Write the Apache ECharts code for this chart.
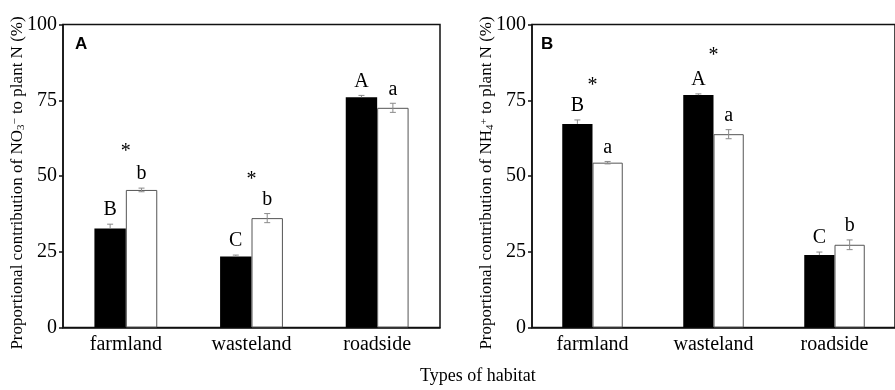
<!DOCTYPE html>
<html><head><meta charset="utf-8">
<script src="https://cdn.jsdelivr.net/npm/echarts@6/dist/echarts.min.js"></script>
<style>html,body{margin:0;padding:0;background:#fff}#c{width:895px;height:390px}</style>
</head><body><div id="c"></div>
<script>
const categories = ['farmland', 'wasteland', 'roadside'];
const yTicks = [0, 25, 50, 75, 100];
// Panel A: NO3- contribution
const nitrateBlack = [32.7, 23.4, 76.0];
const nitrateBlackErr = [1.4, 0.5, 0.6];
const nitrateWhite = [45.4, 36.1, 72.5];
const nitrateWhiteErr = [0.6, 1.5, 1.5];
const nitrateBlackLetters = ['B', 'C', 'A'];
const nitrateWhiteLetters = ['b', 'b', 'a'];
const nitrateStars = [59.2, 50.0, null];
// Panel B: NH4+ contribution
const ammoniumBlack = [67.2, 76.7, 23.9];
const ammoniumBlackErr = [1.3, 0.4, 1.0];
const ammoniumWhite = [54.4, 63.8, 27.3];
const ammoniumWhiteErr = [0.4, 1.5, 1.6];
const ammoniumBlackLetters = ['B', 'A', 'C'];
const ammoniumWhiteLetters = ['a', 'a', 'b'];
const ammoniumStars = [81.0, 91.0, null];

const SERIF = '"Liberation Serif", "Times New Roman", serif';
const chart = echarts.init(document.getElementById('c'), null, {renderer: 'canvas'});

function errSeries(gi, vals, errs, letters, side, fullBar) {
  return {
    type: 'custom', xAxisIndex: gi, yAxisIndex: gi, z: 5,
    data: vals.map((v, i) => [i, v, errs[i], letters[i]]),
    renderItem: function (params, api) {
      const i = api.value(0), v = api.value(1), e = api.value(2);
      const c = api.coord([i, v]);
      const bw = api.size([1, 0])[0] * 0.25;
      const x = c[0] + side * bw / 2;
      const yTop = api.coord([i, v + e])[1];
      const yBot = fullBar ? api.coord([i, v - e])[1] : c[1];
      const cw = 3;
      const st = {stroke: '#8a8a8a', lineWidth: 1};
      const ch = [
        {type: 'line', shape: {x1: x, y1: yTop, x2: x, y2: yBot}, style: st},
        {type: 'line', shape: {x1: x - cw, y1: yTop, x2: x + cw, y2: yTop}, style: st},
        {type: 'text', x: x, y: yTop - 4, style: {text: letters[i], font: '20px ' + SERIF, fill: '#000', align: 'center', verticalAlign: 'bottom'}}
      ];
      if (fullBar) ch.push({type: 'line', shape: {x1: x - cw, y1: yBot, x2: x + cw, y2: yBot}, style: st});
      return {type: 'group', children: ch};
    }
  };
}
function starSeries(gi, stars) {
  return {
    type: 'custom', xAxisIndex: gi, yAxisIndex: gi, z: 5,
    data: stars.map((s, i) => [i, s === null ? '-' : s]),
    renderItem: function (params, api) {
      const v = api.value(1);
      if (isNaN(v)) return null;
      const c = api.coord([api.value(0), v]);
      return {type: 'text', x: c[0], y: c[1] + 4, style: {text: '*', font: '20px ' + SERIF, fill: '#000', align: 'center', verticalAlign: 'middle'}};
    }
  };
}
function barPair(gi, black, white) {
  return [
    {type: 'bar', xAxisIndex: gi, yAxisIndex: gi, data: black, barGap: '0%', barCategoryGap: '50%',
     itemStyle: {color: '#000', borderColor: '#000', borderWidth: 0}},
    {type: 'bar', xAxisIndex: gi, yAxisIndex: gi, data: white, barGap: '0%', barCategoryGap: '50%',
     itemStyle: {color: '#fff', borderColor: '#555', borderWidth: 1}}
  ];
}
function yAx(gi) {
  return {
    type: 'value', gridIndex: gi, min: 0, max: 100, interval: 25,
    axisLine: {show: true, lineStyle: {color: '#111', width: 1.5}},
    axisTick: {show: true, inside: false, length: 4, lineStyle: {color: '#111', width: 1.5}},
    axisLabel: {fontFamily: SERIF, fontSize: 20, color: '#000', margin: 6,
      formatter: v => yTicks.includes(v) ? String(v) : ''},
    splitLine: {show: false}
  };
}
function xAx(gi) {
  return {
    type: 'category', gridIndex: gi, data: categories,
    axisLine: {show: true, lineStyle: {color: '#111', width: 1.5}},
    axisTick: {show: false},
    axisLabel: {fontFamily: SERIF, fontSize: 20, color: '#000', margin: 7}
  };
}
const titleRich = {
  sub: {fontFamily: SERIF, fontSize: 11, verticalAlign: 'bottom', fill: '#000', padding: [6, 0, 0, 0]},
  sup: {fontFamily: SERIF, fontSize: 11, verticalAlign: 'top', fill: '#000'}
};
function yTitle(x, base, sub, sup) {
  return {type: 'text', x: x, y: 183, rotation: Math.PI / 2,
    style: {text: 'Proportional contribution of ' + base + '{sub|' + sub + '}{sup|' + sup + '} to plant N (%)',
      font: '17px ' + SERIF, fill: '#000', align: 'center', verticalAlign: 'middle', rich: titleRich}};
}

chart.setOption({
  animation: false,
  backgroundColor: '#fff',
  grid: [
    {left: 63, top: 24.5, width: 377, bottom: 62.5, show: true, borderColor: '#111', borderWidth: 1.5, backgroundColor: 'transparent'},
    {left: 532, top: 24.5, width: 377, bottom: 62.5, show: true, borderColor: '#111', borderWidth: 1.5, backgroundColor: 'transparent'}
  ],
  xAxis: [xAx(0), xAx(1)],
  yAxis: [yAx(0), yAx(1)],
  graphic: [
    yTitle(18, 'NO', '3', '−'),
    yTitle(487, 'NH', '4', '+'),
    {type: 'text', left: 75, top: 36, style: {text: 'A', font: 'bold 17px "Liberation Sans", Arial, sans-serif', fill: '#000'}},
    {type: 'text', left: 541, top: 36, style: {text: 'B', font: 'bold 17px "Liberation Sans", Arial, sans-serif', fill: '#000'}},
    {type: 'text', left: 420, top: 367, style: {text: 'Types of habitat', font: '18px ' + SERIF, fill: '#000'}}
  ],
  series: [
    ...barPair(0, nitrateBlack, nitrateWhite),
    errSeries(0, nitrateBlack, nitrateBlackErr, nitrateBlackLetters, -1, false),
    errSeries(0, nitrateWhite, nitrateWhiteErr, nitrateWhiteLetters, 1, true),
    starSeries(0, nitrateStars),
    ...barPair(1, ammoniumBlack, ammoniumWhite),
    errSeries(1, ammoniumBlack, ammoniumBlackErr, ammoniumBlackLetters, -1, false),
    errSeries(1, ammoniumWhite, ammoniumWhiteErr, ammoniumWhiteLetters, 1, true),
    starSeries(1, ammoniumStars)
  ]
});
</script></body></html>
